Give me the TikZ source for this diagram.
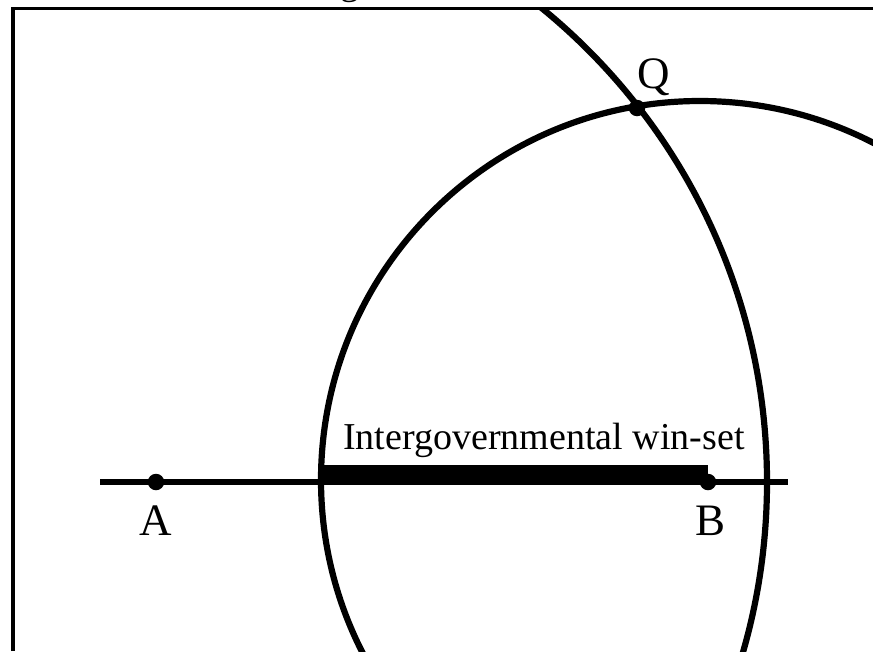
\documentclass[tikz,border=0pt]{standalone}
\usepackage{fontspec}
\setmainfont{Liberation Serif}
\usetikzlibrary{intersections}
\begin{document}
\begin{tikzpicture}[x=1pt,y=-1pt,
  frameline/.style={line width=3.6pt},
  arcline/.style={line width=6.2pt},
  axisline/.style={line width=6.5pt},
  dotmark/.style={circle,fill=black,inner sep=0pt,minimum size=16.5pt},
  biglabel/.style={font=\fontsize{45}{48}\selectfont,inner sep=0pt,anchor=base},
  midlabel/.style={font=\fontsize{38}{42}\selectfont,inner sep=0pt,anchor=base}]
\useasboundingbox (0,0) rectangle (873,651);
% partial title (cut off at the top)
\node[midlabel] (title) at (350,-6) {g};
% frame
\draw[frameline] (13,651) -- (13,8.5) -- (873,8.5);
\coordinate (A) at (156,482);
\coordinate (B) at (708,482);
\coordinate (C) at (700,480);
\begin{scope}
\clip (14.8,10.3) rectangle (873,651);
\draw[arcline] (A) circle[radius=611pt];
\draw[arcline] (C) circle[radius=379pt];
\end{scope}
% axis line
\coordinate (L) at (100,482);
\coordinate (R) at (788,482);
\draw[axisline] (L) -- (R);
% win-set bar
\fill (321,465) rectangle (708,485);
\node[midlabel] (ws) at (544,449) {Intergovernmental win-set};
% points
\node[dotmark] (a) at (A) {};
\node[dotmark] (b) at (B) {};
\node[dotmark] (q) at (637,108) {};
\node[biglabel] (la) at (156,535) {A};
\node[biglabel] (lb) at (710,535) {B};
\node[biglabel] (lq) at (654,88) {Q};
\end{tikzpicture}
\end{document}
